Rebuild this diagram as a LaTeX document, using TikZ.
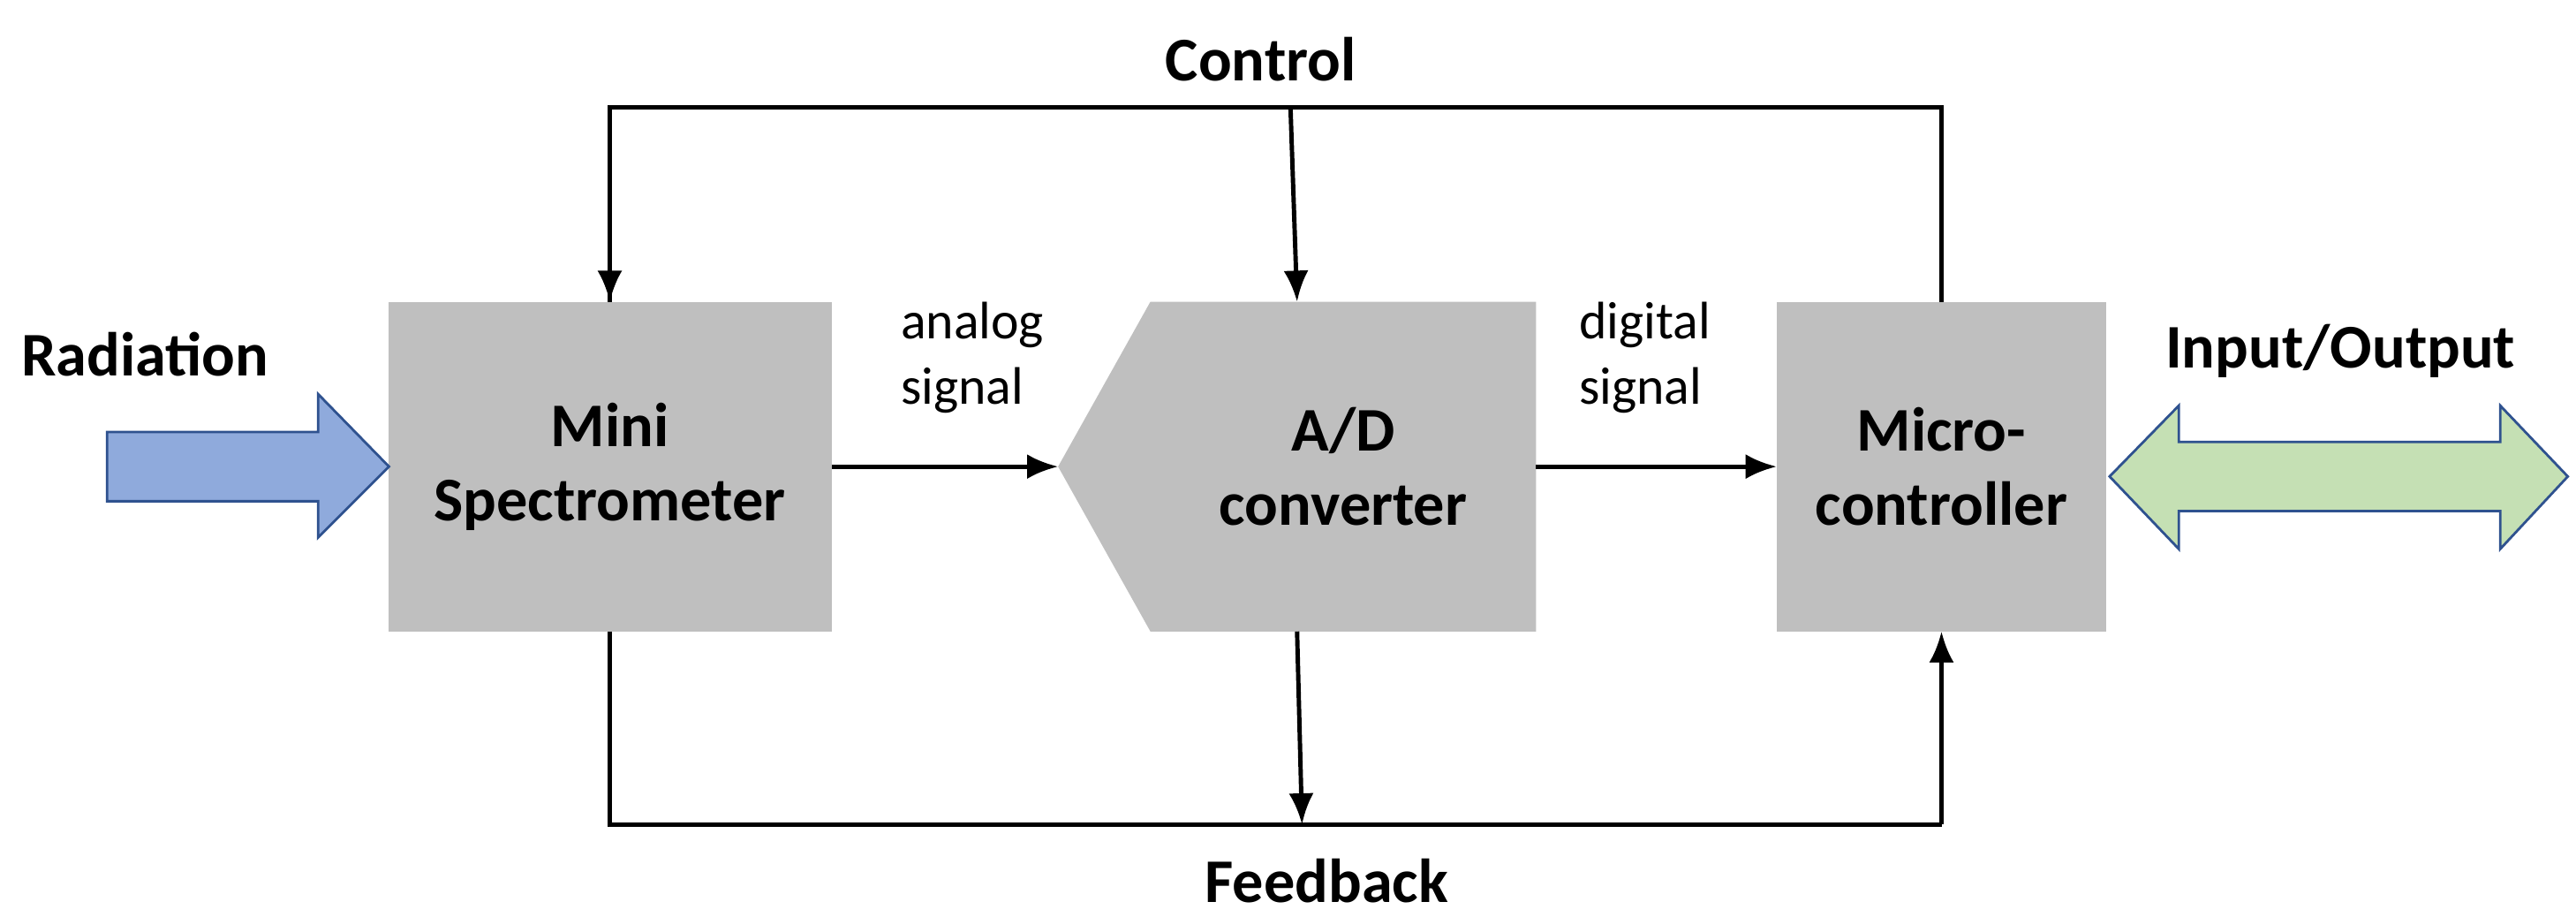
\documentclass[tikz,border=0pt]{standalone}
\usepackage{fontspec}
\setmainfont{Carlito}
\usetikzlibrary{arrows.meta}
\begin{document}
\begin{tikzpicture}[x=0.01866cm,y=-0.01866cm,
  box/.style={fill=boxgray,draw=none},
  lbl/.style={font=\fontsize{20}{24}\selectfont\bfseries,align=center},
  sig/.style={font=\fontsize{17}{21}\selectfont,align=left},
  ln/.style={line width=1.4pt},
  arr/.style={ln,-{Latex[length=10pt,width=8pt]}}]
\definecolor{boxgray}{RGB}{191,191,191}
\definecolor{bluef}{RGB}{143,170,220}
\definecolor{greenf}{RGB}{197,224,180}
\definecolor{edgeb}{RGB}{47,82,143}
\useasboundingbox (0,0) rectangle (1563,556);
% boxes
\fill[boxgray] (236,183) rectangle (505,383);
\node[lbl] (ms) at (370,283) {Mini\\Spectrometer};
\fill[boxgray] (642,283) -- (698,183) -- (932,183) -- (932,383) -- (698,383) -- cycle;
\node[lbl] (ad) at (815,283) {A/D\\converter};
\fill[boxgray] (1078,183) rectangle (1278,383);
\node[lbl] (mc) at (1178,283) {Micro-\\controller};
% coordinates
\coordinate (msR) at (505,283);
\coordinate (adL) at (642,283);
\coordinate (adR) at (932,283);
\coordinate (mcL) at (1078,283);
\coordinate (t1) at (370,65); \coordinate (t2) at (783,65); \coordinate (t3) at (1178,65);
\coordinate (msT) at (370,183); \coordinate (adT) at (787,183); \coordinate (mcT) at (1178,183);
\coordinate (msB) at (370,383); \coordinate (adB) at (787,383); \coordinate (mcB) at (1178,383);
\coordinate (b1) at (370,500); \coordinate (b2) at (790,500); \coordinate (b3) at (1178,500);
% signals
\draw[arr] (msR) -- (adL);
\draw[arr] (adR) -- (mcL);
\node[sig] (an) at (590,217) {analog\\signal};
\node[sig] (di) at (998,217) {digital\\signal};
% control
\draw[ln] (msT) -- (t1) -- (t3) -- (mcT);
\draw[arr] (t1) -- (msT);
\draw[arr] (t2) -- (adT);
\node[lbl] (ctl) at (765,36) {Control};
% feedback
\draw[ln] (msB) -- (b1) -- (b3);
\draw[arr] (adB) -- (b2);
\draw[arr] (b3) -- (mcB);
\node[lbl] (fb) at (805,534) {Feedback};
% radiation
\node[lbl] (rad) at (88,215) {Radiation};
\draw[draw=edgeb,fill=bluef,line width=0.8pt] (65,262) -- (193,262) -- (193,239) -- (236,283) -- (193,326) -- (193,304) -- (65,304) -- cycle;
% IO
\node[lbl] (io) at (1420,213) {Input/Output};
\draw[draw=edgeb,fill=greenf,line width=0.8pt] (1280,289) -- (1322,246) -- (1322,268) -- (1517,268) -- (1517,246) -- (1558,289) -- (1517,333) -- (1517,310) -- (1322,310) -- (1322,333) -- cycle;
\end{tikzpicture}
\end{document}
